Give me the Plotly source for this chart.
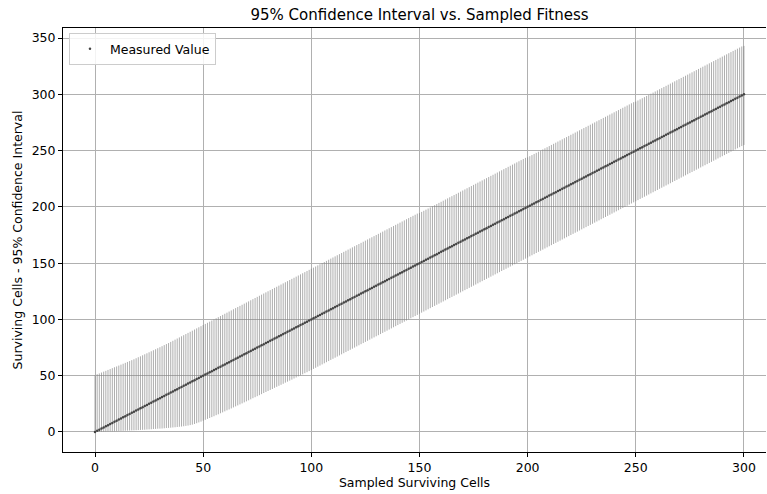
import plotly.graph_objects as go

# Sampled surviving cell counts (x) and the measured value at each count
sampled_cells = list(range(0, 301))
measured_value = list(range(0, 301))

# Lower edge of the 95% confidence interval, one value per sampled count
lower_bound = [
    0.0, 0.1, 0.1, 0.2, 0.2, 0.3, 0.4, 0.5, 0.5, 0.6,
    0.7, 0.8, 0.9, 1.0, 1.1, 1.2, 1.3, 1.4, 1.5, 1.6,
    1.7, 1.8, 1.9, 2.0, 2.2, 2.3, 2.4, 2.6, 2.7, 2.9,
    3.0, 3.1, 3.3, 3.5, 3.6, 3.8, 4.0, 4.2, 4.4, 4.6,
    4.8, 5.1, 5.4, 5.7, 6.1, 6.5, 7.1, 7.8, 8.5, 9.2,
    10.0, 10.8, 11.6, 12.4, 13.2, 14.0, 14.9, 15.7, 16.6, 17.4,
    18.3, 19.2, 20.0, 20.9, 21.8, 22.7, 23.6, 24.5, 25.4, 26.3,
    27.2, 28.1, 29.0, 30.0, 30.9, 31.8, 32.7, 33.6, 34.6, 35.5,
    36.4, 37.3, 38.2, 39.2, 40.1, 41.0, 41.9, 42.8, 43.8, 44.7,
    45.6, 46.5, 47.5, 48.4, 49.4, 50.3, 51.2, 52.2, 53.1, 54.1,
    55, 56, 57, 58, 59, 60, 61, 62, 63, 64,
    65, 66, 67, 68, 69, 70, 71, 72, 73, 74,
    75, 76, 77, 78, 79, 80, 81, 82, 83, 84,
    85, 86, 87, 88, 89, 90, 91, 92, 93, 94,
    95, 96, 97, 98, 99, 100, 101, 102, 103, 104,
    105, 106, 107, 108, 109, 110, 111, 112, 113, 114,
    115, 116, 117, 118, 119, 120, 121, 122, 123, 124,
    125, 126, 127, 128, 129, 130, 131, 132, 133, 134,
    135, 136, 137, 138, 139, 140, 141, 142, 143, 144,
    145, 146, 147, 148, 149, 150, 151, 152, 153, 154,
    155, 156, 157, 158, 159, 160, 161, 162, 163, 164,
    165, 166, 167, 168, 169, 170, 171, 172, 173, 174,
    175, 176, 177, 178, 179, 180, 181, 182, 183, 184,
    185, 186, 187, 188, 189, 190, 191, 192, 193, 194,
    195, 196, 197, 198, 199, 200, 201, 202, 203, 204,
    205, 206, 207, 208, 209, 210, 211, 212, 213, 214,
    215, 216, 217, 218, 219, 220, 221, 222, 223, 224,
    225, 226, 227, 228, 229, 230, 231, 232, 233, 234,
    235, 236, 237, 238, 239, 240, 241, 242, 243, 244,
    245, 246, 247, 248, 249, 250, 251, 252, 253, 254,
    255,
]

# Upper edge of the 95% confidence interval, one value per sampled count
upper_bound = [
    50.5, 51.3, 52.0, 52.8, 53.6, 54.3, 55.1, 55.9, 56.7, 57.5,
    58.2, 59.0, 59.8, 60.6, 61.4, 62.2, 63.0, 63.8, 64.6, 65.5,
    66.4, 67.2, 68.1, 69.0, 69.9, 70.8, 71.7, 72.6, 73.5, 74.4,
    75.3, 76.2, 77.2, 78.1, 79.0, 80, 81, 82, 83, 84,
    85, 86, 87, 88, 89, 90, 91, 92, 93, 94,
    95, 96, 97, 98, 99, 100, 101, 102, 103, 104,
    105, 106, 107, 108, 109, 110, 111, 112, 113, 114,
    115, 116, 117, 118, 119, 120, 121, 122, 123, 124,
    125, 126, 127, 128, 129, 130, 131, 132, 133, 134,
    135, 136, 137, 138, 139, 140, 141, 142, 143, 144,
    145, 146, 147, 148, 149, 150, 151, 152, 153, 154,
    155, 156, 157, 158, 159, 160, 161, 162, 163, 164,
    165, 166, 167, 168, 169, 170, 171, 172, 173, 174,
    175, 176, 177, 178, 179, 180, 181, 182, 183, 184,
    185, 186, 187, 188, 189, 190, 191, 192, 193, 194,
    194.5, 195.5, 196.5, 197.5, 198.5, 199.5, 200.5, 201.5, 202.5, 203.5,
    204.5, 205.5, 206.5, 207.5, 208.5, 209.5, 210.5, 211.5, 212.5, 213.5,
    214.5, 215.5, 216.5, 217.5, 218.5, 219.5, 220.5, 221.5, 222.5, 223.5,
    224.5, 225.5, 226.5, 227.5, 228.5, 229.5, 230.5, 231.5, 232.5, 233.5,
    234.5, 235.5, 236.5, 237.5, 238.5, 239.5, 240.5, 241.5, 242.5, 243.5,
    244, 245, 246, 247, 248, 249, 250, 251, 252, 253,
    254, 255, 256, 257, 258, 259, 260, 261, 262, 263,
    264, 265, 266, 267, 268, 269, 270, 271, 272, 273,
    274, 275, 276, 277, 278, 279, 280, 281, 282, 283,
    284, 285, 286, 287, 288, 289, 290, 291, 292, 293,
    293.5, 294.5, 295.5, 296.5, 297.5, 298.5, 299.5, 300.5, 301.5, 302.5,
    303.5, 304.5, 305.5, 306.5, 307.5, 308.5, 309.5, 310.5, 311.5, 312.5,
    313.5, 314.5, 315.5, 316.5, 317.5, 318.5, 319.5, 320.5, 321.5, 322.5,
    323.5, 324.5, 325.5, 326.5, 327.5, 328.5, 329.5, 330.5, 331.5, 332.5,
    333.5, 334.5, 335.5, 336.5, 337.5, 338.5, 339.5, 340.5, 341.5, 342.5,
    343,
]

x_ticks = [0, 50, 100, 150, 200, 250, 300]
y_ticks = [0, 50, 100, 150, 200, 250, 300, 350]

# Asymmetric error bar lengths measured from each point
err_plus = [u - m for u, m in zip(upper_bound, measured_value)]
err_minus = [m - lo for lo, m in zip(lower_bound, measured_value)]

FONT = "DejaVu Sans"
GRID = "#b0b0b0"

fig = go.Figure()
fig.add_trace(go.Scatter(
    x=sampled_cells,
    y=measured_value,
    mode="markers",
    name="Measured Value",
    marker=dict(size=2.5, color="#444444"),
    error_y=dict(
        type="data",
        symmetric=False,
        array=err_plus,
        arrayminus=err_minus,
        color="rgba(128,128,128,0.72)",
        thickness=0.9,
        width=0,
    ),
))

fig.update_layout(
    width=767,
    height=494,
    margin=dict(l=63, r=1, t=28, b=42),
    paper_bgcolor="white",
    plot_bgcolor="white",
    font=dict(family=FONT, size=12.5, color="black"),
    title=dict(
        text="95% Confidence Interval vs. Sampled Fitness",
        x=419.5 / 767, xref="container", xanchor="center",
        y=1 - 15 / 494, yref="container", yanchor="middle",
        font=dict(family=FONT, size=15, color="black"),
    ),
    showlegend=True,
    legend=dict(
        x=0.0085, y=0.988, xanchor="left", yanchor="top",
        bgcolor="rgba(255,255,255,0.85)",
        bordercolor="#cccccc", borderwidth=1,
        font=dict(family=FONT, size=12.5, color="black"),
    ),
)

fig.update_xaxes(
    range=[-14.8, 310.2],
    tickvals=x_ticks,
    showgrid=True, gridcolor=GRID, gridwidth=1,
    zeroline=False,
    showline=True, linecolor="black", linewidth=1, mirror=True,
    ticks="outside", ticklen=4, tickwidth=1, tickcolor="black",
    title=dict(text="Sampled Surviving Cells", standoff=4,
               font=dict(family=FONT, size=12.5, color="black")),
)
fig.update_yaxes(
    range=[-17.8, 358.9],
    tickvals=y_ticks,
    showgrid=True, gridcolor=GRID, gridwidth=1,
    zeroline=False,
    showline=True, linecolor="black", linewidth=1, mirror=False,
    ticks="outside", ticklen=4, tickwidth=1, tickcolor="black",
    title=dict(text="Surviving Cells - 95% Confidence Interval", standoff=6,
               font=dict(family=FONT, size=12.5, color="black")),
)

fig.write_html("out.html")
